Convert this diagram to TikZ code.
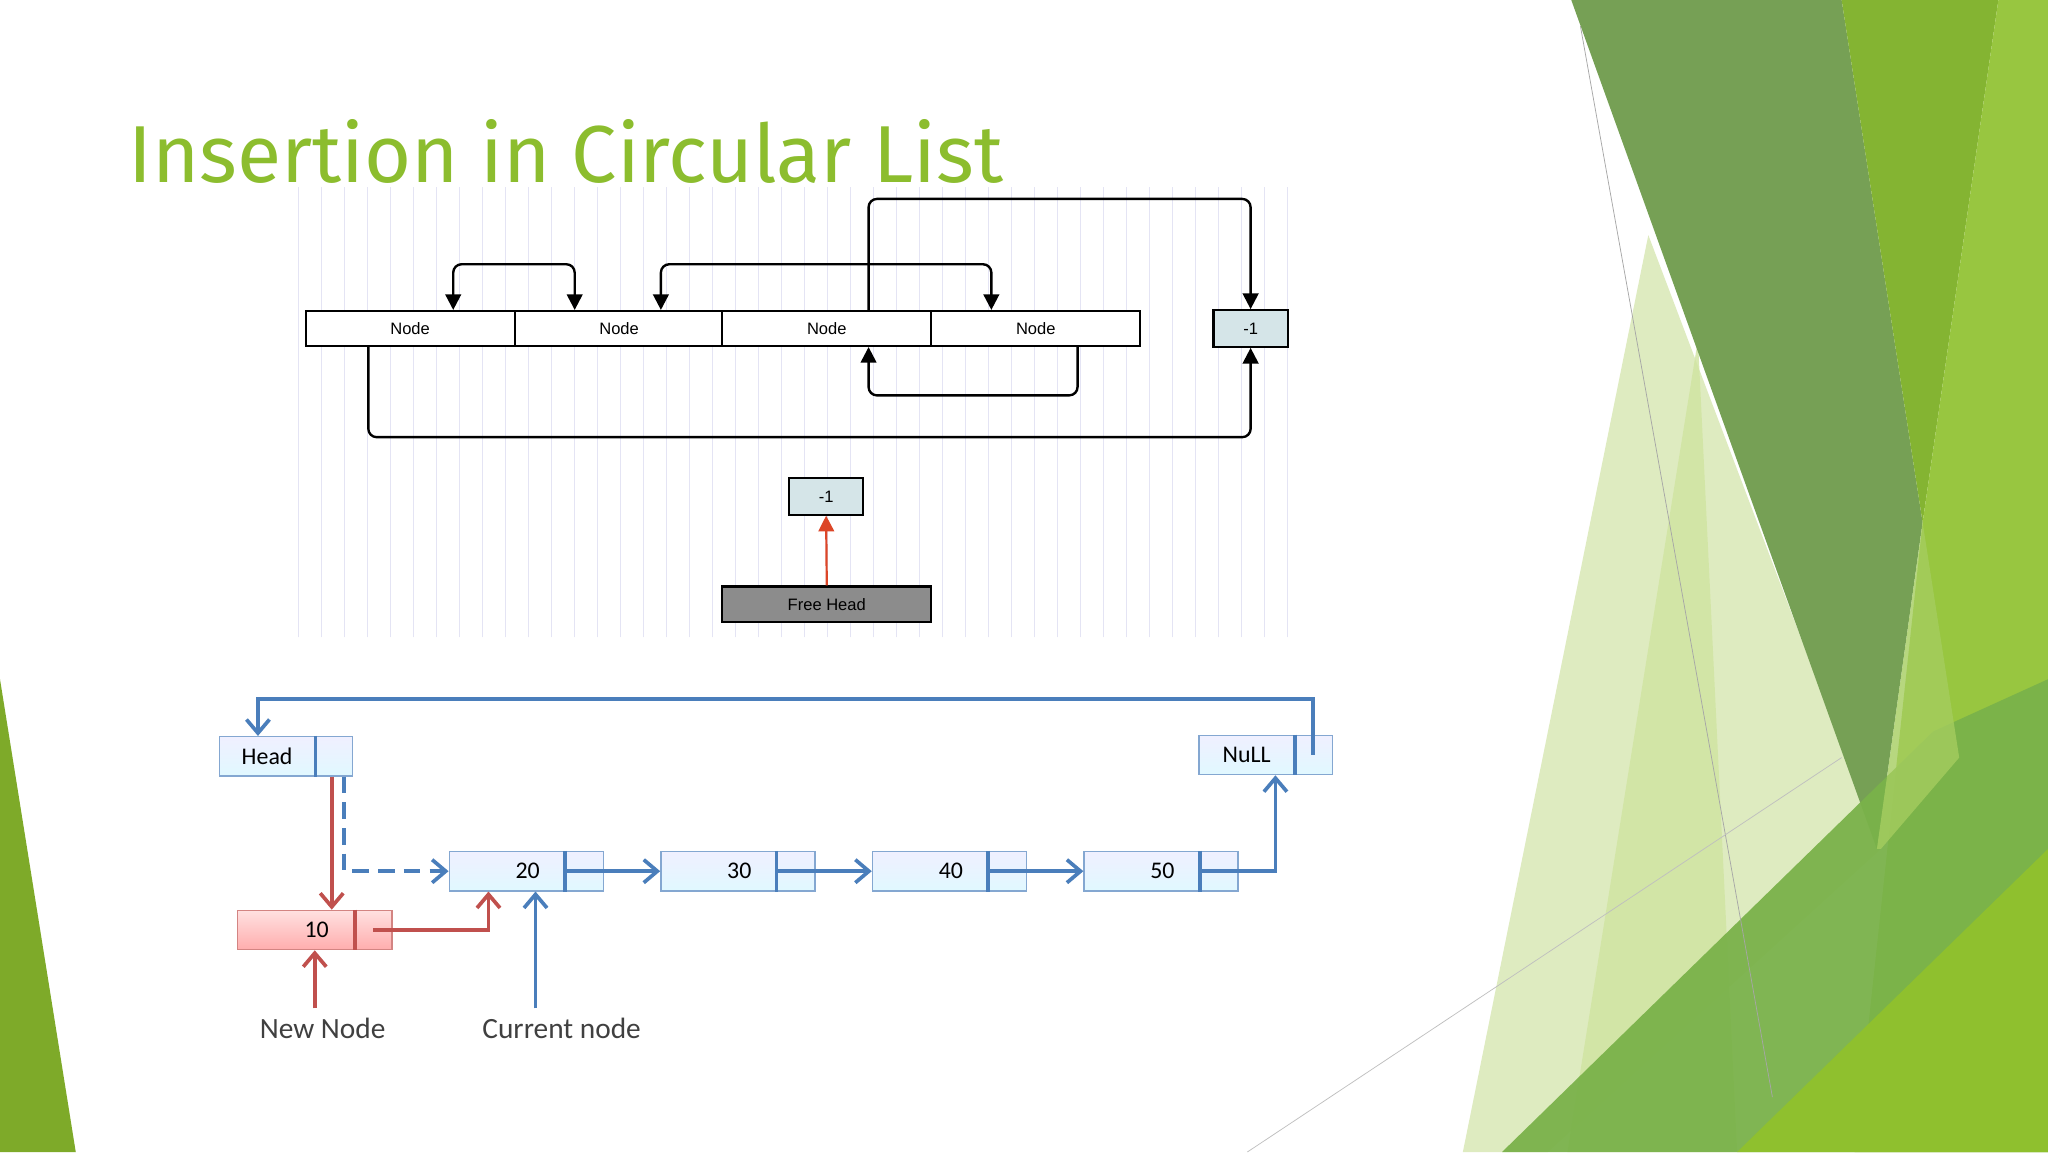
\documentclass[tikz,border=0pt]{standalone}
\usepackage{fontspec}
\setmainfont{Liberation Sans}
\newfontfamily\calfnt{Carlito}
\newfontfamily\ttlfnt{Fira Sans}
\usetikzlibrary{arrows.meta,calc}
\definecolor{ttlg}{HTML}{8CBD2E}
\definecolor{bbord}{HTML}{4F81BD}
\definecolor{bline}{HTML}{4A7EBB}
\definecolor{rline}{HTML}{C0504D}
\definecolor{gridc}{HTML}{E4E4F4}
\definecolor{boxc}{HTML}{D5E5E8}
\definecolor{g1}{RGB}{118,160,85}
\definecolor{g2}{RGB}{132,180,50}
\definecolor{g3}{RGB}{152,198,64}
\definecolor{g4}{RGB}{122,178,74}
\definecolor{g5}{RGB}{143,192,46}
\definecolor{g6}{RGB}{165,205,95}
\definecolor{pale1}{RGB}{222,235,192}
\definecolor{pale2}{RGB}{208,228,160}
\definecolor{redarr}{RGB}{220,70,40}
\begin{document}
\begin{tikzpicture}[x=0.25mm,y=-0.25mm,
  tn/.style={draw=black,line width=1pt,minimum width=40mm,minimum height=6.75mm,inner sep=0pt,font=\fontsize{9}{10}\selectfont,fill=white},
  sq/.style={draw=black,line width=1.2pt,minimum width=14.25mm,minimum height=7mm,inner sep=0pt,font=\fontsize{9}{10}\selectfont,fill=boxc},
  blk/.style={line width=1.3pt,rounded corners=1.6mm,-{Triangle[length=3mm,width=3mm]}},
  bx/.style={draw=bbord!70,line width=0.8pt,top color=blue!6,bottom color=blue!22!cyan!12,inner sep=0pt,minimum height=7.5mm,font=\calfnt\fontsize{13}{14}\selectfont},
  rx/.style={draw=rline!70,line width=0.8pt,top color=red!12,bottom color=red!32,inner sep=0pt,minimum height=7.5mm,font=\calfnt\fontsize{13}{14}\selectfont},
  ba/.style={bline,line width=2pt,-{Straight Barb[length=2.6mm,width=4.4mm]}},
  ra/.style={rline,line width=2pt,-{Straight Barb[length=2.6mm,width=4.4mm]}},
  lbl/.style={font=\calfnt\fontsize{16}{18}\selectfont,text=black!75}]
\useasboundingbox (0,0) rectangle (1568,882);
\fill[white] (0,0) rectangle (1568,882);
% background shapes
\fill[ttlg!90!black] (0,520) -- (58,882) -- (0,882) -- cycle;
\fill[pale1] (1262,180) -- (1440,650) -- (1185,882) -- (1120,882) -- cycle;
\fill[pale2,opacity=0.8] (1300,260) -- (1330,882) -- (1200,882) -- cycle;
\fill[g1] (1203,0) -- (1410,0) -- (1472,400) -- (1437,650) -- cycle;
\fill[g2] (1410,0) -- (1530,0) -- (1472,400) -- cycle;
\fill[g3] (1530,0) -- (1568,0) -- (1568,882) -- (1420,882) -- (1472,400) -- cycle;
\fill[g4,opacity=0.95] (1150,882) -- (1480,560) -- (1568,520) -- (1568,882) -- cycle;
\fill[g5] (1330,882) -- (1568,650) -- (1568,882) -- cycle;
\fill[g6,opacity=0.8] (1437,650) -- (1472,400) -- (1500,580) -- (1440,650) -- cycle;
\draw[gray!70,line width=0.4pt] (1210,20) -- (1357,840);
\draw[gray!50,line width=0.4pt] (955,882) -- (1410,580);
% title
\node[anchor=base west,inner sep=0pt,text=ttlg,font=\ttlfnt\fontsize{44}{48}\selectfont] (title) at (98,140) {Insertion in Circular List};
% grid
\fill[white] (222,143) rectangle (998,488);
\draw[gridc,line width=0.5pt,step=17.6] (222,143) grid (998,488);
% top diagram
\node[tn] (n1) at (314,251.5) {Node};
\node[tn] (n2) at (474,251.5) {Node};
\node[tn] (n3) at (633,251.5) {Node};
\node[tn] (n4) at (793,251.5) {Node};
\node[sq] (m1) at (957.5,251.5) {-1};
\node[sq] (m2) at (632.5,380) {-1};
\node[draw=black,line width=1.2pt,fill=black!45,minimum width=40mm,minimum height=6.75mm,inner sep=0pt,font=\fontsize{9}{10}\selectfont] (fh) at (633,462.5) {Free Head};
\draw[blk,{Triangle[length=3mm,width=3mm]}-{Triangle[length=3mm,width=3mm]}] ($(n1.north)+(33,0)$) -- ++(0,-35) -| ($(n2.north)+(-34,0)$);
\draw[blk,{Triangle[length=3mm,width=3mm]}-{Triangle[length=3mm,width=3mm]}] ($(n2.north)+(32,0)$) -- ++(0,-35) -| ($(n4.north)+(-34,0)$);
\draw[blk] ($(n3.north)+(32,0)$) -- ++(0,-85) -| (m1.north);
\draw[blk] ($(n4.south)+(32,0)$) -- ++(0,37) -| ($(n3.south)+(32,0)$);
\draw[blk] ($(n1.south)+(-32,0)$) -- ++(0,69) -| (m1.south);
\draw[redarr,line width=1.2pt,-{Triangle[length=3mm,width=3mm]}] (fh.north) -- (m2.south);
% bottom diagram
\node[bx,minimum width=18.25mm] (head) at (204.5,579) {Head};
\node[bx,minimum width=7.25mm] (headp) at (255.5,579) {};
\node[bx,minimum width=18.25mm] (nul) at (954.5,578) {NuLL};
\node[bx,minimum width=7.25mm] (nulp) at (1005.5,578) {};
\foreach \n/\x/\v in {b20/344/20,b30/506/30,b40/668/40,b50/830/50}{
  \node[bx,minimum width=22mm] (\n) at ({\x+44},667) {\hspace{8mm}\v};
  \node[bx,minimum width=7.5mm] (\n p) at ({\x+103},667) {};
}
\node[rx,minimum width=22.25mm] (b10) at (226.5,712) {\hspace{8mm}10};
\node[rx,minimum width=7.25mm] (b10p) at (285.5,712) {};
\foreach \n in {head,nul,b20,b30,b40,b50}{\draw[bline,line width=2pt] (\n.north east) -- (\n.south east);}
\draw[rline,line width=2pt] (b10.north east) -- (b10.south east);
\draw[ba] ($(b20p.center)+(-15,0)$) -- (b30.west);
\draw[ba] ($(b30p.center)+(-15,0)$) -- (b40.west);
\draw[ba] ($(b40p.center)+(-15,0)$) -- (b50.west);
\draw[ba] ($(b50p.center)+(-15,0)$) -| ($(nulp.south)+(-29,0)$);
\draw[ba] (nulp.center) -- ++(0,-43) -| ($(head.north)+(-7,0)$);
\draw[bline,line width=2pt,dash pattern=on 9pt off 5pt,-{Straight Barb[length=2.6mm,width=4.4mm]}] ($(headp.south)+(8,0)$) |- (b20.west);
\draw[ra] ($(headp.south)+(-1.5,0)$) -- ($(b10.north)+(27.5,0)$);
\draw[ra] (b10p.center) -| ($(b20.south)+(-14,0)$);
\node[lbl] (nn) at (247,787) {New Node};
\node[lbl] (cn) at (430,787) {Current node};
\draw[ra] (241,772) -- ($(b10.south)+(14.5,0)$);
\draw[ba] (410,772) -- ($(b20.south)+(22,0)$);
\end{tikzpicture}
\end{document}
